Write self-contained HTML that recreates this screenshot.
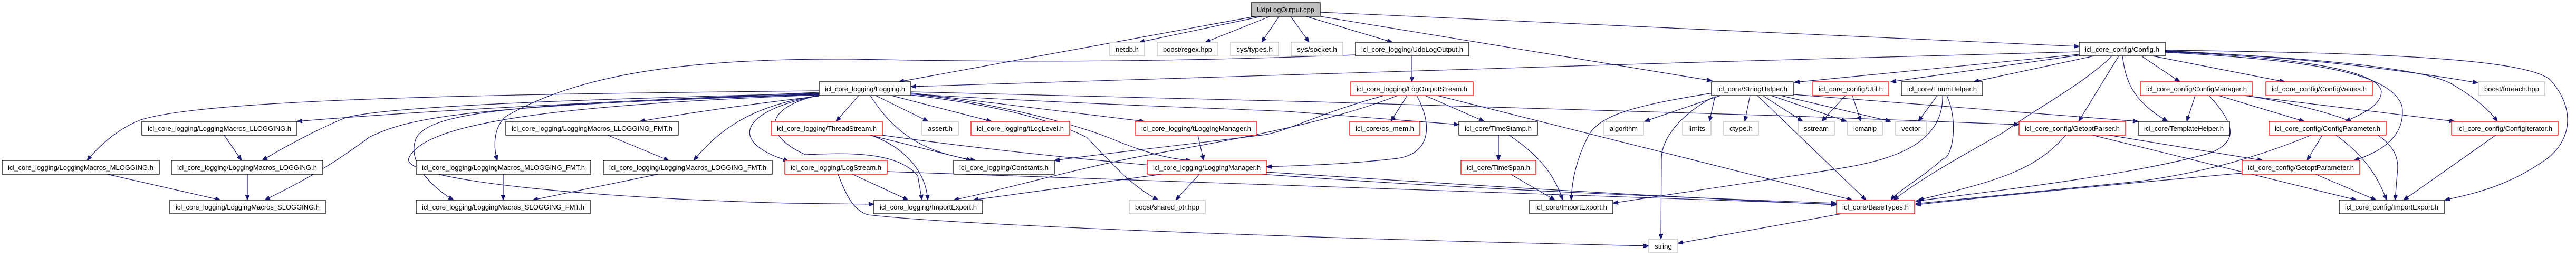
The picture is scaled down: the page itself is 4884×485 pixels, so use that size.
<!DOCTYPE html>
<html><head><meta charset="utf-8"><style>
html,body{margin:0;padding:0;background:#fff;}
svg{display:block;}
text{font-family:"Liberation Sans",sans-serif;font-size:13px;text-anchor:middle;fill:#000;}
.b{fill:#fff;stroke:#000;stroke-width:1.3;}
.r{fill:#fff;stroke:#f00;stroke-width:1.3;}
.g{fill:#fff;stroke:#bfbfbf;stroke-width:1.3;}
.root{fill:#bfbfbf;stroke:#000;stroke-width:1.3;}
path.e{fill:none;stroke:#191970;stroke-width:1.2;marker-end:url(#ah);}
</style></head><body>
<svg width="4884" height="485" viewBox="0 0 4884 485" xmlns="http://www.w3.org/2000/svg">
<defs><marker id="ah" markerUnits="userSpaceOnUse" markerWidth="11" markerHeight="8" refX="10" refY="4" orient="auto"><path d="M0,0 L10,4 L0,8 z" fill="#191970" stroke="#191970"/></marker></defs>
<g>
<!-- root edges -->
<path class="e" d="M2380,31 L1704,155"/>
<path class="e" d="M2392,31 L2160,80"/>
<path class="e" d="M2408,31 L2285,80"/>
<path class="e" d="M2425,31 L2392,80"/>
<path class="e" d="M2447,31 L2482,80"/>
<path class="e" d="M2476,31 L2640,80"/>
<path class="e" d="M2503,31 L3246,153"/>
<path class="e" d="M2503,23 L3942,88"/>
<path class="e" d="M2677,106 L2677,155"/>
<path class="e" d="M2570,104 C2200,118 1900,118 1620,112 C1300,110 1100,140 960,220 C935,240 935,280 943,304"/>
<path class="e" d="M3942,98 L3250,117 C2800,130 2400,145 1727,164"/>
<!-- Logging.h edges -->
<path class="e" d="M1553,172 C1000,178 400,185 267,227 C220,245 185,280 165,304"/>
<path class="e" d="M1553,175 C1100,195 800,210 563,230"/>
<path class="e" d="M1553,177 C1000,190 700,205 650,225 C580,255 520,290 497,304"/>
<path class="e" d="M1553,179 C900,200 780,220 700,260 C620,320 560,350 502,379"/>
<path class="e" d="M1553,182 C1400,200 1300,215 1213,230"/>
<path class="e" d="M1553,181 C1420,200 1360,250 1315,304"/>
<path class="e" d="M1553,181 C1400,210 1380,270 1495,305"/>
<path class="e" d="M1628,181 L1585,230"/>
<path class="e" d="M1553,178 C1000,195 820,210 790,260 C770,300 810,350 860,379"/>
<path class="e" d="M1553,180 C1000,200 800,240 775,300 C760,340 1100,375 1500,385 L1657,387"/>
<path class="e" d="M1553,180 C1438,207 1453,260 1527,293 C1600,290 1700,285 1740,333 L1748,379"/>
<path class="e" d="M1660,181 L1760,230"/>
<path class="e" d="M1690,181 L1880,230"/>
<path class="e" d="M1727,176 L2170,230"/>
<path class="e" d="M1650,181 C1700,260 1760,290 1850,304"/>
<path class="e" d="M1727,180 C1900,200 2000,230 2060,260 C2100,300 2140,350 2196,379"/>
<path class="e" d="M1727,178 C1900,195 2050,240 2100,260 C2150,280 2200,300 2258,304"/>
<path class="e" d="M1727,178 C2000,195 2300,205 2440,211 L2766,236"/>
<path class="e" d="M1727,174 C2200,185 3000,205 3400,220 L3828,236"/>
<!-- macros -->
<path class="e" d="M425,256 L458,304"/>
<path class="e" d="M203,330 L418,379"/>
<path class="e" d="M469,330 L469,379"/>
<path class="e" d="M1152,256 L1268,304"/>
<path class="e" d="M954,330 L954,379"/>
<path class="e" d="M1248,330 L1010,379"/>
<!-- Thread / LogStream -->
<path class="e" d="M1649,256 L1842,304"/>
<path class="e" d="M1651,256 C1725,283 1756,333 1759,379"/>
<path class="e" d="M1672,256 C2200,330 2800,360 3482,385"/>
<path class="e" d="M1616,330 L1722,379"/>
<path class="e" d="M1682,325 C2200,340 2800,365 3482,387"/>
<path class="e" d="M1589,330 C1605,373 1620,400 1646,407 C1800,425 2400,450 3126,466"/>
<!-- LogOutputStream -->
<path class="e" d="M2668,181 L2637,230"/>
<path class="e" d="M2702,181 L2814,230"/>
<path class="e" d="M2725,181 L3250,313 L3512,379"/>
<path class="e" d="M2686,181 C2715,233 2715,290 2650,300 C2550,312 2450,314 2401,316"/>
<path class="e" d="M2624,181 C2500,215 2450,245 2400,255 C2200,280 2100,290 1999,304"/>
<path class="e" d="M2650,181 C2500,240 2300,270 2143,300 C2000,330 1900,360 1808,379"/>
<!-- LoggingManager -->
<path class="e" d="M2271,256 L2282,304"/>
<path class="e" d="M2203,330 L1845,379"/>
<path class="e" d="M2274,330 L2229,379"/>
<path class="e" d="M2401,326 C2700,345 3000,365 3482,388"/>
<!-- TimeStamp -->
<path class="e" d="M2841,256 L2841,304"/>
<path class="e" d="M2861,256 C2927,300 2950,340 2963,379"/>
<path class="e" d="M2864,330 L2948,379"/>
<!-- StringHelper -->
<path class="e" d="M3262,181 L3118,230"/>
<path class="e" d="M3252,181 L3241,230"/>
<path class="e" d="M3318,181 L3308,230"/>
<path class="e" d="M3342,181 L3418,230"/>
<path class="e" d="M3358,181 L3501,230"/>
<path class="e" d="M3376,181 L3585,230"/>
<path class="e" d="M3332,181 L3538,379"/>
<path class="e" d="M3250,183 C3180,220 3150,267 3150,300 L3149,453"/>
<path class="e" d="M3248,176 C3100,200 3031,217 3010,260 C2990,300 2980,340 2979,379"/>
<path class="e" d="M3400,179 L4054,230"/>
<!-- Util / Enum -->
<path class="e" d="M3499,181 L3454,230"/>
<path class="e" d="M3512,181 L3528,230"/>
<path class="e" d="M3673,181 L3637,230"/>
<path class="e" d="M3691,181 C3715,233 3700,300 3685,300 C3640,340 3600,360 3585,379"/>
<path class="e" d="M3683,181 C3685,267 3600,300 3501,317 C3300,350 3150,370 3058,385"/>
<path class="e" d="M3491,405 L3181,461"/>
<!-- Config -->
<path class="e" d="M3942,103 L3402,156"/>
<path class="e" d="M3946,104 L3585,155"/>
<path class="e" d="M3970,106 L3742,155"/>
<path class="e" d="M4004,106 C3950,160 3857,207 3800,250 C3711,300 3640,340 3590,379"/>
<path class="e" d="M4017,106 L3941,230"/>
<path class="e" d="M4024,106 C4030,150 4040,190 4110,230"/>
<path class="e" d="M4060,106 L4133,155"/>
<path class="e" d="M4081,106 L4332,155"/>
<path class="e" d="M4105,96 C4400,110 4600,140 4698,157"/>
<path class="e" d="M4105,97 C4400,110 4600,130 4650,160 C4700,190 4720,210 4735,230"/>
<path class="e" d="M4105,98 C4400,110 4510,140 4515,173 C4515,200 4480,215 4447,230"/>
<path class="e" d="M4105,99 C4400,115 4531,140 4554,200 C4560,240 4540,280 4463,304"/>
<path class="e" d="M4105,95 C4500,100 4780,110 4834,150 C4880,200 4880,260 4830,300 C4760,350 4700,365 4635,379"/>
<!-- ConfigManager etc -->
<path class="e" d="M4162,181 L4146,230"/>
<path class="e" d="M4188,181 C4243,240 4240,270 4190,290 C4050,330 3800,360 3632,381"/>
<path class="e" d="M4206,181 L4369,230"/>
<path class="e" d="M4254,181 L4654,230"/>
<path class="e" d="M4264,182 C4531,227 4552,283 4545,330 L4541,379"/>
<path class="e" d="M4403,256 L4374,304"/>
<path class="e" d="M4429,256 C4489,300 4510,340 4525,379"/>
<path class="e" d="M4382,256 C4250,310 4150,330 4060,343 C3900,360 3750,375 3632,386"/>
<path class="e" d="M4390,330 L4505,379"/>
<path class="e" d="M4251,328 C4000,350 3800,370 3632,388"/>
<path class="e" d="M4732,256 L4557,379"/>
<path class="e" d="M3998,256 L4290,304"/>
<path class="e" d="M3967,256 L4468,379"/>
<path class="e" d="M3917,256 C3860,320 3800,340 3637,379"/>
</g>
<g>
<rect class="root" x="2372" y="5" width="131" height="26"/><text x="2437.5" y="23" textLength="109" lengthAdjust="spacingAndGlyphs">UdpLogOutput.cpp</text>
<rect class="g" x="2104" y="80" width="66" height="26"/><text x="2137" y="98" textLength="44" lengthAdjust="spacingAndGlyphs">netdb.h</text>
<rect class="g" x="2194" y="80" width="115" height="26"/><text x="2251.5" y="98" textLength="93" lengthAdjust="spacingAndGlyphs">boost/regex.hpp</text>
<rect class="g" x="2333" y="80" width="91" height="26"/><text x="2378.5" y="98" textLength="69" lengthAdjust="spacingAndGlyphs">sys/types.h</text>
<rect class="g" x="2448" y="80" width="98" height="26"/><text x="2497" y="98" textLength="76" lengthAdjust="spacingAndGlyphs">sys/socket.h</text>
<rect class="b" x="2570" y="80" width="215" height="26"/><text x="2677.5" y="98" textLength="193" lengthAdjust="spacingAndGlyphs">icl_core_logging/UdpLogOutput.h</text>
<rect class="b" x="3942" y="80" width="163" height="26"/><text x="4023.5" y="98" textLength="141" lengthAdjust="spacingAndGlyphs">icl_core_config/Config.h</text>
<rect class="b" x="1553" y="155" width="174" height="26"/><text x="1640" y="173" textLength="152" lengthAdjust="spacingAndGlyphs">icl_core_logging/Logging.h</text>
<rect class="r" x="2561" y="155" width="232" height="26"/><text x="2677" y="173" textLength="210" lengthAdjust="spacingAndGlyphs">icl_core_logging/LogOutputStream.h</text>
<rect class="b" x="3245" y="155" width="155" height="26"/><text x="3322.5" y="173" textLength="133" lengthAdjust="spacingAndGlyphs">icl_core/StringHelper.h</text>
<rect class="r" x="3437" y="155" width="144" height="26"/><text x="3509" y="173" textLength="122" lengthAdjust="spacingAndGlyphs">icl_core_config/Util.h</text>
<rect class="b" x="3605" y="155" width="154" height="26"/><text x="3682" y="173" textLength="132" lengthAdjust="spacingAndGlyphs">icl_core/EnumHelper.h</text>
<rect class="r" x="4058" y="155" width="213" height="26"/><text x="4164.5" y="173" textLength="191" lengthAdjust="spacingAndGlyphs">icl_core_config/ConfigManager.h</text>
<rect class="r" x="4296" y="155" width="202" height="26"/><text x="4397" y="173" textLength="180" lengthAdjust="spacingAndGlyphs">icl_core_config/ConfigValues.h</text>
<rect class="g" x="4699" y="155" width="126" height="26"/><text x="4762" y="173" textLength="104" lengthAdjust="spacingAndGlyphs">boost/foreach.hpp</text>

<rect class="b" x="269" y="230" width="294" height="26"/><text x="416" y="248" textLength="272" lengthAdjust="spacingAndGlyphs">icl_core_logging/LoggingMacros_LLOGGING.h</text>
<rect class="b" x="959" y="230" width="327" height="26"/><text x="1122.5" y="248" textLength="305" lengthAdjust="spacingAndGlyphs">icl_core_logging/LoggingMacros_LLOGGING_FMT.h</text>
<rect class="r" x="1462" y="230" width="211" height="26"/><text x="1567.5" y="248" textLength="189" lengthAdjust="spacingAndGlyphs">icl_core_logging/ThreadStream.h</text>
<rect class="g" x="1748" y="230" width="69" height="26"/><text x="1782.5" y="248" textLength="47" lengthAdjust="spacingAndGlyphs">assert.h</text>
<rect class="r" x="1841" y="230" width="187" height="26"/><text x="1934.5" y="248" textLength="165" lengthAdjust="spacingAndGlyphs">icl_core_logging/tLogLevel.h</text>
<rect class="r" x="2153" y="230" width="230" height="26"/><text x="2268" y="248" textLength="208" lengthAdjust="spacingAndGlyphs">icl_core_logging/tLoggingManager.h</text>
<rect class="r" x="2559" y="230" width="133" height="26"/><text x="2625.5" y="248" textLength="111" lengthAdjust="spacingAndGlyphs">icl_core/os_mem.h</text>
<rect class="b" x="2766" y="230" width="149" height="26"/><text x="2840.5" y="248" textLength="127" lengthAdjust="spacingAndGlyphs">icl_core/TimeStamp.h</text>
<rect class="g" x="3041" y="230" width="75" height="26"/><text x="3078.5" y="248" textLength="53" lengthAdjust="spacingAndGlyphs">algorithm</text>
<rect class="g" x="3190" y="230" width="54" height="26"/><text x="3217" y="248" textLength="32" lengthAdjust="spacingAndGlyphs">limits</text>
<rect class="g" x="3268" y="230" width="66" height="26"/><text x="3301" y="248" textLength="44" lengthAdjust="spacingAndGlyphs">ctype.h</text>
<rect class="g" x="3409" y="230" width="69" height="26"/><text x="3443.5" y="248" textLength="47" lengthAdjust="spacingAndGlyphs">sstream</text>
<rect class="g" x="3503" y="230" width="66" height="26"/><text x="3536" y="248" textLength="44" lengthAdjust="spacingAndGlyphs">iomanip</text>
<rect class="g" x="3594" y="230" width="58" height="26"/><text x="3623" y="248" textLength="36" lengthAdjust="spacingAndGlyphs">vector</text>
<rect class="r" x="3828" y="230" width="202" height="26"/><text x="3929" y="248" textLength="180" lengthAdjust="spacingAndGlyphs">icl_core_config/GetoptParser.h</text>
<rect class="b" x="4054" y="230" width="173" height="26"/><text x="4140.5" y="248" textLength="151" lengthAdjust="spacingAndGlyphs">icl_core/TemplateHelper.h</text>
<rect class="r" x="4302" y="230" width="222" height="26"/><text x="4413" y="248" textLength="200" lengthAdjust="spacingAndGlyphs">icl_core_config/ConfigParameter.h</text>
<rect class="r" x="4648" y="230" width="202" height="26"/><text x="4749" y="248" textLength="180" lengthAdjust="spacingAndGlyphs">icl_core_config/ConfigIterator.h</text>

<rect class="b" x="4" y="304" width="298" height="26"/><text x="153" y="322" textLength="276" lengthAdjust="spacingAndGlyphs">icl_core_logging/LoggingMacros_MLOGGING.h</text>
<rect class="b" x="325" y="304" width="287" height="26"/><text x="468.5" y="322" textLength="265" lengthAdjust="spacingAndGlyphs">icl_core_logging/LoggingMacros_LOGGING.h</text>
<rect class="b" x="789" y="304" width="331" height="26"/><text x="954.5" y="322" textLength="309" lengthAdjust="spacingAndGlyphs">icl_core_logging/LoggingMacros_MLOGGING_FMT.h</text>
<rect class="b" x="1144" y="304" width="320" height="26"/><text x="1304" y="322" textLength="298" lengthAdjust="spacingAndGlyphs">icl_core_logging/LoggingMacros_LOGGING_FMT.h</text>
<rect class="r" x="1488" y="304" width="194" height="26"/><text x="1585" y="322" textLength="172" lengthAdjust="spacingAndGlyphs">icl_core_logging/LogStream.h</text>
<rect class="b" x="1808" y="304" width="191" height="26"/><text x="1903.5" y="322" textLength="169" lengthAdjust="spacingAndGlyphs">icl_core_logging/Constants.h</text>
<rect class="r" x="2175" y="304" width="226" height="26"/><text x="2288" y="322" textLength="204" lengthAdjust="spacingAndGlyphs">icl_core_logging/LoggingManager.h</text>
<rect class="r" x="2770" y="304" width="142" height="26"/><text x="2841" y="322" textLength="120" lengthAdjust="spacingAndGlyphs">icl_core/TimeSpan.h</text>
<rect class="r" x="4251" y="304" width="223" height="26"/><text x="4362.5" y="322" textLength="201" lengthAdjust="spacingAndGlyphs">icl_core_config/GetoptParameter.h</text>

<rect class="b" x="322" y="379" width="295" height="26"/><text x="469.5" y="397" textLength="273" lengthAdjust="spacingAndGlyphs">icl_core_logging/LoggingMacros_SLOGGING.h</text>
<rect class="b" x="789" y="379" width="330" height="26"/><text x="954" y="397" textLength="308" lengthAdjust="spacingAndGlyphs">icl_core_logging/LoggingMacros_SLOGGING_FMT.h</text>
<rect class="b" x="1657" y="379" width="206" height="26"/><text x="1760" y="397" textLength="184" lengthAdjust="spacingAndGlyphs">icl_core_logging/ImportExport.h</text>
<rect class="g" x="2141" y="379" width="144" height="26"/><text x="2213" y="397" textLength="122" lengthAdjust="spacingAndGlyphs">boost/shared_ptr.hpp</text>
<rect class="b" x="2900" y="379" width="158" height="26"/><text x="2979" y="397" textLength="136" lengthAdjust="spacingAndGlyphs">icl_core/ImportExport.h</text>
<rect class="r" x="3482" y="379" width="148" height="26"/><text x="3556" y="397" textLength="126" lengthAdjust="spacingAndGlyphs">icl_core/BaseTypes.h</text>
<rect class="b" x="4435" y="379" width="199" height="26"/><text x="4534.5" y="397" textLength="177" lengthAdjust="spacingAndGlyphs">icl_core_config/ImportExport.h</text>
<rect class="g" x="3126" y="453" width="55" height="26"/><text x="3153.5" y="471" textLength="33" lengthAdjust="spacingAndGlyphs">string</text>
</g>
</svg>
</body></html>
